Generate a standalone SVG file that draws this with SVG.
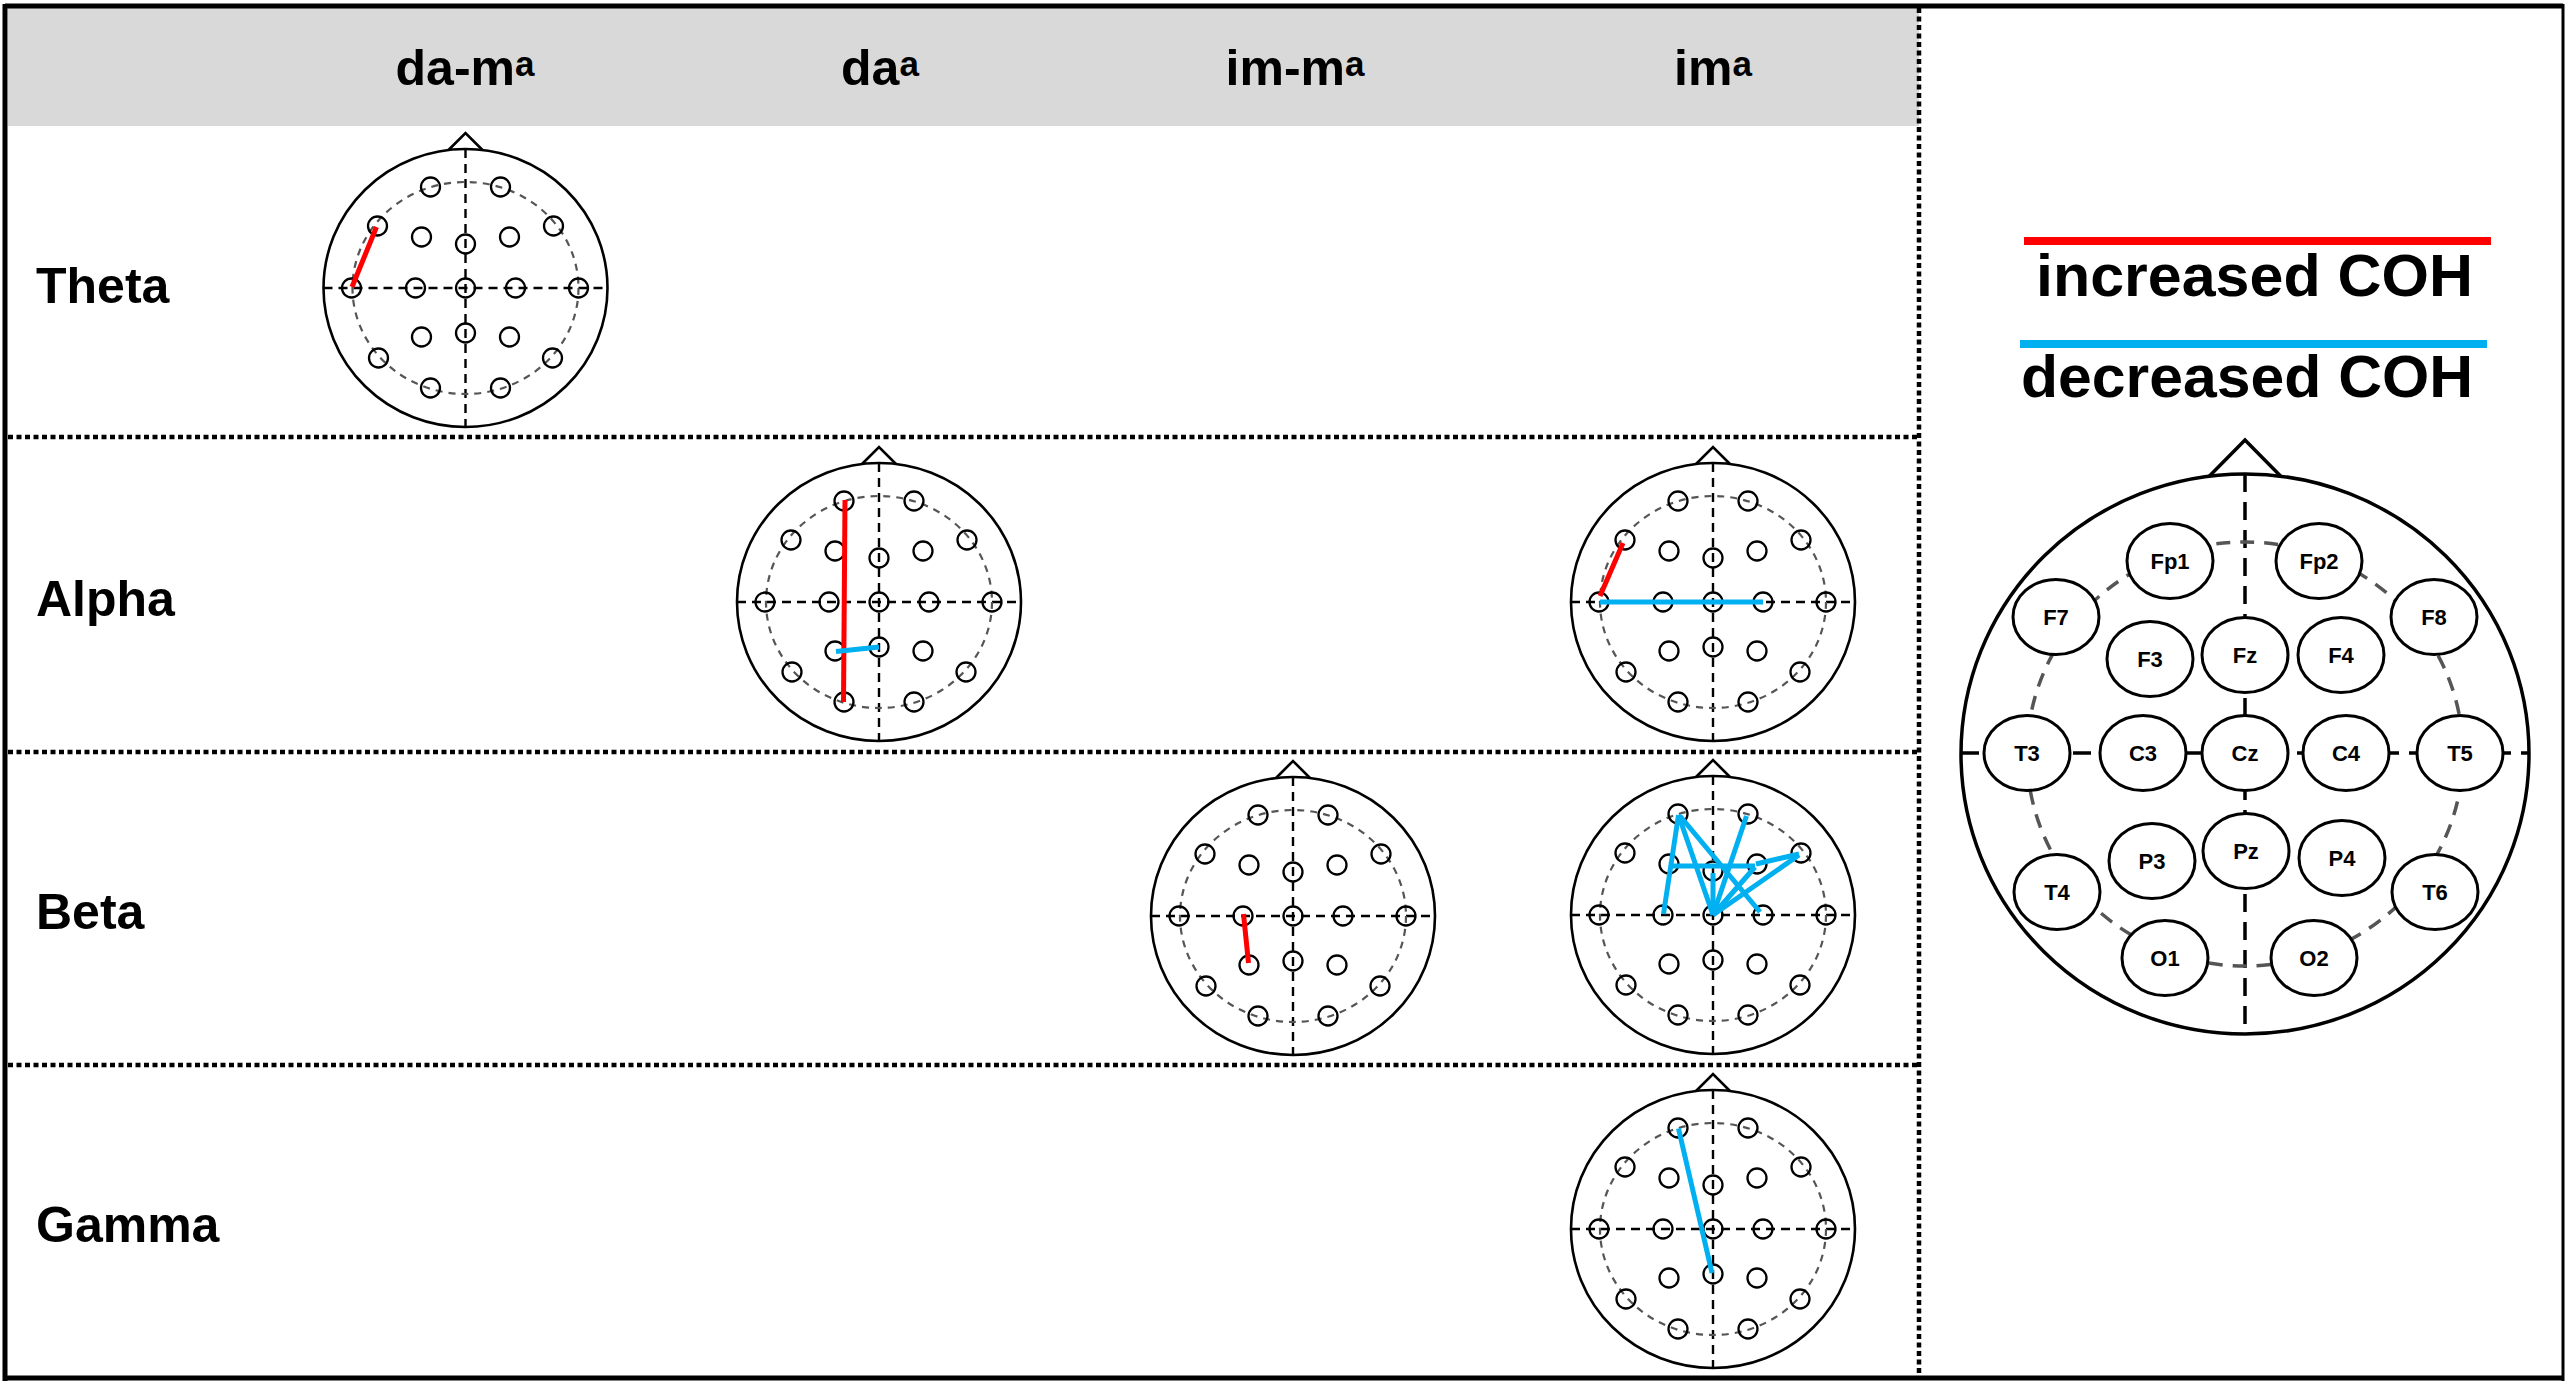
<svg xmlns="http://www.w3.org/2000/svg" xmlns:xlink="http://www.w3.org/1999/xlink" width="2568" height="1385" viewBox="0 0 2568 1385">
<style>
.hdr{font-family:"Liberation Sans",Arial,sans-serif;font-weight:bold;font-size:50px;fill:#000;text-anchor:middle}
.row{font-family:"Liberation Sans",Arial,sans-serif;font-weight:bold;font-size:50px;fill:#000}
.leg{font-family:"Liberation Sans",Arial,sans-serif;font-weight:bold;font-size:60px;fill:#000;text-anchor:middle}
.lab{font-family:"Liberation Sans",Arial,sans-serif;font-weight:bold;font-size:22px;fill:#000;text-anchor:middle}
.dot{stroke:#000;stroke-width:4.5;stroke-dasharray:5 3.5;fill:none}
.skull{fill:none;stroke:#000;stroke-width:2.6}
.cross{stroke:#000;stroke-width:2.4;stroke-dasharray:9 6;fill:none}
.inner{fill:none;stroke:#555;stroke-width:2.2;stroke-dasharray:7 6}
.el{fill:none;stroke:#000;stroke-width:2.3}
.inc{stroke:#ff0000;stroke-width:5;fill:none}
.dec{stroke:#00b0f0;stroke-width:5;fill:none}
.bskull{fill:#fff;stroke:#000;stroke-width:3.5}
.bcross{stroke:#000;stroke-width:3.5;stroke-dasharray:18 10;fill:none}
.binner{fill:none;stroke:#555;stroke-width:3.5;stroke-dasharray:14 10}
.bel{fill:#fff;stroke:#000;stroke-width:3}
</style>
<defs>
<g id="head">
<ellipse class="skull" cx="0" cy="0" rx="142" ry="139"/>
<path class="skull" d="M-17,-138 L0,-155 L17,-138"/>
<line class="cross" x1="0" y1="-139" x2="0" y2="139"/>
<line class="cross" x1="-142" y1="0" x2="142" y2="0"/>
<ellipse class="inner" cx="0" cy="0" rx="113" ry="106"/>
<circle class="el" cx="-35" cy="-101" r="9.5"/>
<circle class="el" cx="35" cy="-101" r="9.5"/>
<circle class="el" cx="-88" cy="-62" r="9.5"/>
<circle class="el" cx="88" cy="-62" r="9.5"/>
<circle class="el" cx="-44" cy="-51" r="9.5"/>
<circle class="el" cx="0" cy="-44" r="9.5"/>
<circle class="el" cx="44" cy="-51" r="9.5"/>
<circle class="el" cx="-114" cy="0" r="9.5"/>
<circle class="el" cx="-50" cy="0" r="9.5"/>
<circle class="el" cx="0" cy="0" r="9.5"/>
<circle class="el" cx="50" cy="0" r="9.5"/>
<circle class="el" cx="113" cy="0" r="9.5"/>
<circle class="el" cx="-44" cy="49" r="9.5"/>
<circle class="el" cx="0" cy="45" r="9.5"/>
<circle class="el" cx="44" cy="49" r="9.5"/>
<circle class="el" cx="-87" cy="70" r="9.5"/>
<circle class="el" cx="87" cy="70" r="9.5"/>
<circle class="el" cx="-35" cy="100" r="9.5"/>
<circle class="el" cx="35" cy="100" r="9.5"/>
</g>
</defs>
<rect x="0" y="0" width="2568" height="1385" fill="#fff"/>
<g id="table">
<rect x="8" y="8" width="1911" height="118" fill="#d9d9d9"/>
<line class="dot" x1="8" y1="437" x2="1919" y2="437"/>
<line class="dot" x1="8" y1="752" x2="1919" y2="752"/>
<line class="dot" x1="8" y1="1065" x2="1919" y2="1065"/>
<line class="dot" x1="1919" y1="8" x2="1919" y2="1376"/>
<path d="M5,6 H2563 M5,1378 H2563 M5,4 V1381" stroke="#000" stroke-width="5" fill="none"/>
<line x1="2563" y1="4" x2="2563" y2="1381" stroke="#000" stroke-width="3"/>
</g>
<g id="headers">
<text class="hdr" x="465" y="85">da-m<tspan font-size="35" dy="-9">a</tspan></text>
<text class="hdr" x="880" y="85">da<tspan font-size="35" dy="-9">a</tspan></text>
<text class="hdr" x="1295" y="85">im-m<tspan font-size="35" dy="-9">a</tspan></text>
<text class="hdr" x="1713" y="85">im<tspan font-size="35" dy="-9">a</tspan></text>
</g>
<g id="rows">
<text class="row" x="36" y="303">Theta</text>
<text class="row" x="36" y="616">Alpha</text>
<text class="row" x="36" y="929">Beta</text>
<text class="row" x="36" y="1242">Gamma</text>
</g>
<g id="head-theta-dam" transform="translate(465.5,288)"><use xlink:href="#head" href="#head"/></g>
<g id="head-alpha-da" transform="translate(879,602)"><use xlink:href="#head" href="#head"/></g>
<g id="head-alpha-im" transform="translate(1713,602)"><use xlink:href="#head" href="#head"/></g>
<g id="head-beta-imm" transform="translate(1293,916)"><use xlink:href="#head" href="#head"/></g>
<g id="head-beta-im" transform="translate(1713,915)"><use xlink:href="#head" href="#head"/></g>
<g id="head-gamma-im" transform="translate(1713,1229)"><use xlink:href="#head" href="#head"/></g>
<g id="connectors">
<line class="inc" x1="376.5" y1="227" x2="352" y2="287"/>
<line class="inc" x1="845" y1="500" x2="843.5" y2="702"/>
<line class="dec" x1="836" y1="651.5" x2="879" y2="647"/>
<line class="inc" x1="1623" y1="543" x2="1600" y2="596"/>
<line class="dec" x1="1600" y1="602" x2="1763" y2="602"/>
<line class="inc" x1="1243.5" y1="914" x2="1248.5" y2="963"/>
<line class="dec" x1="1678.5" y1="815" x2="1663.5" y2="914"/>
<line class="dec" x1="1678.5" y1="815" x2="1713" y2="915"/>
<line class="dec" x1="1680" y1="816" x2="1760" y2="912"/>
<line class="dec" x1="1670" y1="866" x2="1755" y2="866"/>
<line class="dec" x1="1746.5" y1="816" x2="1713" y2="915"/>
<line class="dec" x1="1713" y1="873" x2="1713" y2="915"/>
<line class="dec" x1="1756" y1="864" x2="1799" y2="854"/>
<line class="dec" x1="1713" y1="915" x2="1799" y2="855"/>
<line class="dec" x1="1713" y1="915" x2="1755" y2="867"/>
<line class="dec" x1="1678.5" y1="1128.5" x2="1712" y2="1273"/>
</g>
<g id="legend">
<line x1="2024" y1="241" x2="2491" y2="241" stroke="#ff0000" stroke-width="8"/>
<text class="leg" x="2254.5" y="296" textLength="437" lengthAdjust="spacingAndGlyphs">increased COH</text>
<line x1="2020" y1="344" x2="2487" y2="344" stroke="#00b0f0" stroke-width="8"/>
<text class="leg" x="2247" y="397" textLength="452" lengthAdjust="spacingAndGlyphs">decreased COH</text>
</g>
<g id="legend-head" transform="translate(2245,754)">
<ellipse class="bskull" cx="0" cy="0" rx="284" ry="280"/>
<path class="skull" style="stroke-width:3.5" d="M-36,-277.5 L0,-314 L36,-277.5"/>
<line class="bcross" x1="0" y1="-280" x2="0" y2="280"/>
<line class="bcross" x1="-284" y1="-1" x2="284" y2="-1"/>
<ellipse class="binner" cx="0" cy="0" rx="218" ry="212"/>
<g id="el-Fp1"><ellipse class="bel" cx="-75" cy="-193" rx="43" ry="37.5"/><text class="lab" x="-75" y="-185">Fp1</text></g>
<g id="el-Fp2"><ellipse class="bel" cx="74" cy="-193" rx="43" ry="37.5"/><text class="lab" x="74" y="-185">Fp2</text></g>
<g id="el-F7"><ellipse class="bel" cx="-189" cy="-137" rx="43" ry="37.5"/><text class="lab" x="-189" y="-129">F7</text></g>
<g id="el-F8"><ellipse class="bel" cx="189" cy="-137" rx="43" ry="37.5"/><text class="lab" x="189" y="-129">F8</text></g>
<g id="el-F3"><ellipse class="bel" cx="-95" cy="-95" rx="43" ry="37.5"/><text class="lab" x="-95" y="-87">F3</text></g>
<g id="el-Fz"><ellipse class="bel" cx="0" cy="-99" rx="43" ry="37.5"/><text class="lab" x="0" y="-91">Fz</text></g>
<g id="el-F4"><ellipse class="bel" cx="96" cy="-99" rx="43" ry="37.5"/><text class="lab" x="96" y="-91">F4</text></g>
<g id="el-T3"><ellipse class="bel" cx="-218" cy="-1" rx="43" ry="37.5"/><text class="lab" x="-218" y="7">T3</text></g>
<g id="el-C3"><ellipse class="bel" cx="-102" cy="-1" rx="43" ry="37.5"/><text class="lab" x="-102" y="7">C3</text></g>
<g id="el-Cz"><ellipse class="bel" cx="0" cy="-1" rx="43" ry="37.5"/><text class="lab" x="0" y="7">Cz</text></g>
<g id="el-C4"><ellipse class="bel" cx="101" cy="-1" rx="43" ry="37.5"/><text class="lab" x="101" y="7">C4</text></g>
<g id="el-T5"><ellipse class="bel" cx="215" cy="-1" rx="43" ry="37.5"/><text class="lab" x="215" y="7">T5</text></g>
<g id="el-P3"><ellipse class="bel" cx="-93" cy="107" rx="43" ry="37.5"/><text class="lab" x="-93" y="115">P3</text></g>
<g id="el-Pz"><ellipse class="bel" cx="1" cy="97" rx="43" ry="37.5"/><text class="lab" x="1" y="105">Pz</text></g>
<g id="el-P4"><ellipse class="bel" cx="97" cy="104" rx="43" ry="37.5"/><text class="lab" x="97" y="112">P4</text></g>
<g id="el-T4"><ellipse class="bel" cx="-188" cy="138" rx="43" ry="37.5"/><text class="lab" x="-188" y="146">T4</text></g>
<g id="el-T6"><ellipse class="bel" cx="190" cy="138" rx="43" ry="37.5"/><text class="lab" x="190" y="146">T6</text></g>
<g id="el-O1"><ellipse class="bel" cx="-80" cy="204" rx="43" ry="37.5"/><text class="lab" x="-80" y="212">O1</text></g>
<g id="el-O2"><ellipse class="bel" cx="69" cy="204" rx="43" ry="37.5"/><text class="lab" x="69" y="212">O2</text></g>
</g>
</svg>
